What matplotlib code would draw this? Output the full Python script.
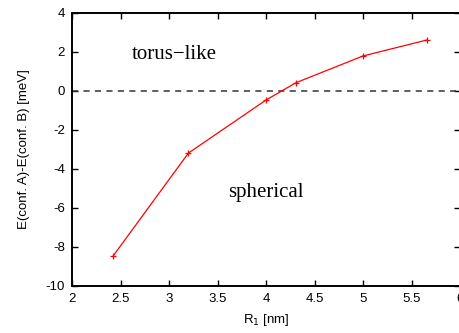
import matplotlib
matplotlib.use("Agg")
import matplotlib.pyplot as plt

# radius R1 [nm] and energy difference [meV]
r1 = [2.42, 3.20, 4.00, 4.31, 5.00, 5.66]
delta_e = [-8.5, -3.2, -0.48, 0.41, 1.78, 2.6]

plt.rcParams["font.family"] = ["Liberation Sans", "DejaVu Sans"]
plt.rcParams["axes.unicode_minus"] = False

fig = plt.figure(figsize=(4.59, 3.33), dpi=100)
ax = fig.add_axes([0.1569, 0.142, 0.8453, 0.820])

ax.axhline(0, color="#333333", lw=1.1, ls=(0, (4, 3.5)))
ax.plot(r1, delta_e, color="red", lw=0.9, marker="+", ms=4, mew=0.9)

ax.set_xlim(2, 6)
ax.set_ylim(-10, 4)
ax.set_xticks([2, 2.5, 3, 3.5, 4, 4.5, 5, 5.5, 6])
ax.set_xticklabels(["2", "2.5", "3", "3.5", "4", "4.5", "5", "5.5", "6"])
ax.set_yticks(range(-10, 5, 2))
ax.tick_params(direction="in", length=4, width=1, top=True, right=True,
               labelsize=9.5, pad=5)
for s in ax.spines.values():
    s.set_linewidth(1.4)

ax.set_xlabel("R$_1$ [nm]", fontsize=9.5, labelpad=5)
ax.set_ylabel("E(conf. A)-E(conf. B) [meV]", fontsize=9.5, labelpad=11)

ax.text(2.62, 1.85, "torus\u2212like", family="Liberation Serif", fontsize=15,
        va="center", ha="left")
ax.text(3.61, -5.2, "spherical", family="Liberation Serif", fontsize=15,
        va="center", ha="left")

fig.savefig("out.png", dpi=100)
